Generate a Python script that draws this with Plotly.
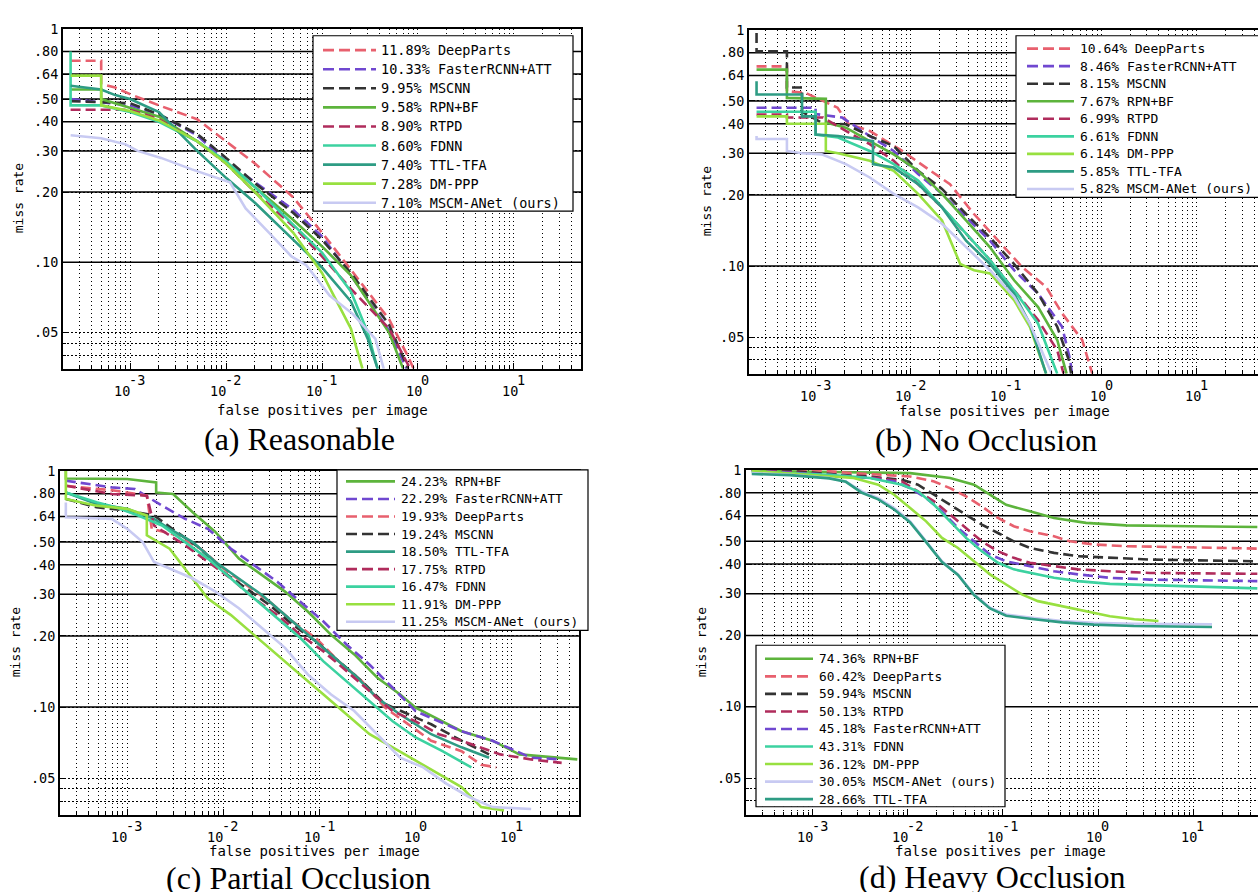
import math
import plotly.graph_objects as go

# ---------------- data ----------------
# (a) Reasonable
A_DEEPPARTS_X = [2.4e-4, 5.0e-4, 5.0e-4, 7e-4, 1e-3, 2e-3, 5e-3, 1e-2, 2e-2, 5e-2, 0.1, 0.2, 0.5, 0.8, 0.9]
A_DEEPPARTS_Y = [0.73, 0.73, 0.58, 0.56, 0.525, 0.47, 0.41, 0.33, 0.265, 0.19, 0.134, 0.093, 0.057, 0.039, 0.035]
A_FASTER_X = [2.4e-4, 1e-3, 2e-3, 5e-3, 1e-2, 2e-2, 5e-2, 0.1, 0.2, 0.5, 0.76]
A_FASTER_Y = [0.50, 0.47, 0.43, 0.35, 0.27, 0.22, 0.168, 0.129, 0.088, 0.051, 0.035]
A_MSCNN_X = [2.4e-4, 1e-3, 2e-3, 5e-3, 1e-2, 2e-2, 5e-2, 0.1, 0.2, 0.5, 0.79]
A_MSCNN_Y = [0.49, 0.48, 0.43, 0.355, 0.28, 0.218, 0.163, 0.125, 0.09, 0.054, 0.035]
A_RPN_X = [2.4e-4, 5e-4, 5e-4, 1e-3, 2e-3, 5e-3, 1e-2, 2e-2, 5e-2, 0.1, 0.2, 0.5, 0.7]
A_RPN_Y = [0.55, 0.55, 0.50, 0.46, 0.42, 0.33, 0.27, 0.21, 0.152, 0.117, 0.088, 0.05, 0.035]
A_RTPD_X = [2.4e-4, 1e-3, 2e-3, 5e-3, 1e-2, 2e-2, 5e-2, 0.1, 0.2, 0.5, 0.83]
A_RTPD_Y = [0.45, 0.45, 0.41, 0.33, 0.265, 0.2, 0.143, 0.106, 0.077, 0.052, 0.035]
A_FDNN_X = [2.4e-4, 2.4e-4, 5e-4, 1e-3, 2e-3, 5e-3, 1e-2, 2e-2, 5e-2, 0.1, 0.2, 0.3, 0.38]
A_FDNN_Y = [0.80, 0.47, 0.47, 0.44, 0.40, 0.33, 0.27, 0.21, 0.145, 0.11, 0.075, 0.05, 0.035]
A_TTL_X = [2.4e-4, 5e-4, 7e-4, 1e-3, 2e-3, 5e-3, 1e-2, 2e-2, 5e-2, 0.1, 0.2, 0.3, 0.38]
A_TTL_Y = [0.57, 0.55, 0.52, 0.50, 0.44, 0.30, 0.23, 0.18, 0.125, 0.095, 0.068, 0.047, 0.035]
A_DMPPP_X = [2.4e-4, 5e-4, 5e-4, 1e-3, 2e-3, 5e-3, 1e-2, 2e-2, 5e-2, 0.1, 0.2, 0.264]
A_DMPPP_Y = [0.63, 0.63, 0.47, 0.445, 0.405, 0.33, 0.265, 0.2, 0.134, 0.09, 0.052, 0.035]
A_MSCM_X = [2.4e-4, 5e-4, 9e-4, 1.2e-3, 2.1e-3, 4.4e-3, 1.1e-2, 1.6e-2, 2.8e-2, 4.8e-2, 6.9e-2, 0.12, 0.21, 0.36, 0.44]
A_MSCM_Y = [0.35, 0.34, 0.32, 0.30, 0.28, 0.25, 0.22, 0.17, 0.134, 0.106, 0.097, 0.072, 0.06, 0.047, 0.035]

# (b) No Occlusion
B_DEEPPARTS_X = [2.4e-4, 5e-4, 5e-4, 7.9e-4, 1.7e-3, 2.2e-3, 3.7e-3, 8.1e-3, 0.0144, 0.0257, 0.0459, 0.082, 0.147, 0.262, 0.386, 0.627, 0.80]
B_DEEPPARTS_Y = [0.70, 0.70, 0.55, 0.54, 0.468, 0.40, 0.373, 0.307, 0.261, 0.222, 0.166, 0.128, 0.099, 0.0816, 0.063, 0.0486, 0.035]
B_FASTER_X = [2.4e-4, 1e-3, 1e-3, 1.9e-3, 3.7e-3, 6.6e-3, 0.0119, 0.0212, 0.0379, 0.0676, 0.121, 0.216, 0.386, 0.469, 0.49]
B_FASTER_Y = [0.468, 0.468, 0.44, 0.425, 0.355, 0.307, 0.245, 0.202, 0.161, 0.128, 0.096, 0.0764, 0.0553, 0.040, 0.035]
B_MSCNN_X = [2.4e-4, 2.4e-4, 5e-4, 5e-4, 7.2e-4, 7.2e-4, 1.16e-3, 2.08e-3, 3.7e-3, 6.6e-3, 0.0119, 0.0212, 0.0379, 0.0676, 0.121, 0.216, 0.343, 0.454, 0.48]
B_MSCNN_Y = [0.97, 0.81, 0.81, 0.57, 0.57, 0.45, 0.404, 0.398, 0.355, 0.322, 0.253, 0.212, 0.166, 0.132, 0.102, 0.0764, 0.0553, 0.040, 0.035]
B_RPN_X = [2.4e-4, 5e-4, 5e-4, 1.28e-3, 1.28e-3, 2.08e-3, 3.7e-3, 6.6e-3, 0.0119, 0.0212, 0.0379, 0.0676, 0.121, 0.216, 0.343, 0.43]
B_RPN_Y = [0.678, 0.678, 0.515, 0.51, 0.405, 0.385, 0.338, 0.297, 0.253, 0.202, 0.156, 0.12, 0.087, 0.067, 0.0486, 0.035]
B_RTPD_X = [2.4e-4, 5e-4, 5e-4, 1.2e-3, 2.08e-3, 3.7e-3, 6.6e-3, 0.0119, 0.0212, 0.0379, 0.0676, 0.121, 0.216, 0.343, 0.40]
B_RTPD_Y = [0.438, 0.438, 0.425, 0.425, 0.373, 0.328, 0.279, 0.222, 0.177, 0.137, 0.106, 0.079, 0.059, 0.044, 0.035]
B_FDNN_X = [2.4e-4, 1e-3, 1e-3, 1.72e-3, 3.7e-3, 6.6e-3, 0.0119, 0.0212, 0.0379, 0.0676, 0.121, 0.216, 0.343]
B_FDNN_Y = [0.45, 0.45, 0.36, 0.35, 0.307, 0.27, 0.23, 0.177, 0.137, 0.106, 0.079, 0.057, 0.035]
B_DMPPP_X = [2.4e-4, 5e-4, 5e-4, 1.28e-3, 1.28e-3, 1.72e-3, 3.7e-3, 6.6e-3, 0.0119, 0.0212, 0.0329, 0.0459, 0.0676, 0.121, 0.177, 0.262]
B_DMPPP_Y = [0.43, 0.43, 0.40, 0.40, 0.307, 0.30, 0.279, 0.253, 0.202, 0.156, 0.102, 0.096, 0.093, 0.0717, 0.0553, 0.035]
B_TTL_X = [2.4e-4, 2.4e-4, 7.2e-4, 7.2e-4, 1e-3, 1e-3, 1.72e-3, 4e-3, 4e-3, 6.6e-3, 0.0119, 0.0212, 0.0379, 0.0676, 0.121, 0.177, 0.262]
B_TTL_Y = [0.606, 0.532, 0.532, 0.43, 0.43, 0.36, 0.355, 0.338, 0.27, 0.261, 0.222, 0.177, 0.128, 0.102, 0.0764, 0.057, 0.035]
B_MSCM_X = [2.4e-4, 2.4e-4, 5e-4, 5e-4, 7.2e-4, 1.16e-3, 2.08e-3, 3.7e-3, 6.6e-3, 0.0119, 0.0212, 0.0379, 0.0676, 0.121, 0.177, 0.30]
B_MSCM_Y = [0.355, 0.345, 0.345, 0.307, 0.30, 0.297, 0.27, 0.237, 0.202, 0.177, 0.151, 0.12, 0.096, 0.074, 0.057, 0.035]

# (c) Partial Occlusion
C_RPN_X = [2.3e-4, 2.3e-4, 1e-3, 2e-3, 2e-3, 3.0e-3, 4.8e-3, 8.3e-3, 0.0145, 0.0252, 0.0438, 0.076, 0.132, 0.23, 0.40, 0.69, 1.0, 3.0, 6.3, 12, 48]
C_RPN_Y = [1.0, 0.928, 0.923, 0.893, 0.81, 0.798, 0.668, 0.55, 0.425, 0.362, 0.308, 0.253, 0.202, 0.167, 0.133, 0.113, 0.0994, 0.079, 0.072, 0.063, 0.060]
C_FASTER_X = [2.3e-4, 6.9e-4, 1.2e-3, 2.3e-3, 4.0e-3, 6.9e-3, 0.012, 0.021, 0.0364, 0.0632, 0.11, 0.191, 0.332, 0.577, 1.0, 3.0, 6.3, 15.9, 33]
C_FASTER_Y = [0.908, 0.851, 0.837, 0.712, 0.626, 0.568, 0.468, 0.398, 0.339, 0.279, 0.23, 0.184, 0.151, 0.1206, 0.096, 0.079, 0.072, 0.061, 0.060]
C_DEEPPARTS_X = [2.3e-4, 7.6e-4, 1.6e-3, 1.8e-3, 3.3e-3, 5.8e-3, 0.01, 0.0174, 0.0303, 0.0526, 0.0914, 0.159, 0.276, 0.48, 0.834, 1.45, 3.0, 4.8, 6.9]
C_DEEPPARTS_Y = [0.865, 0.824, 0.785, 0.568, 0.533, 0.468, 0.386, 0.328, 0.279, 0.23, 0.196, 0.156, 0.1286, 0.0994, 0.0845, 0.072, 0.065, 0.057, 0.0555]
C_MSCNN_X = [2.3e-4, 4.8e-4, 1e-3, 1.9e-3, 3.3e-3, 5.8e-3, 0.01, 0.0174, 0.0303, 0.0526, 0.0914, 0.159, 0.276, 0.48, 0.834, 1.45, 3.0, 5.8]
C_MSCNN_Y = [0.76, 0.701, 0.679, 0.647, 0.55, 0.468, 0.373, 0.318, 0.27, 0.223, 0.19, 0.156, 0.1286, 0.103, 0.093, 0.0845, 0.072, 0.063]
C_TTL_X = [2.3e-4, 4.8e-4, 1e-3, 1.9e-3, 2.76e-3, 4.8e-3, 8.3e-3, 0.0145, 0.0252, 0.0438, 0.076, 0.132, 0.23, 0.40, 0.69, 1.45, 3.0, 5.8]
C_TTL_Y = [0.81, 0.724, 0.69, 0.626, 0.568, 0.499, 0.411, 0.35, 0.298, 0.245, 0.202, 0.167, 0.137, 0.109, 0.093, 0.0767, 0.0675, 0.061]
C_RTPD_X = [2.3e-4, 6.9e-4, 1.6e-3, 1.9e-3, 4.0e-3, 6.9e-3, 0.012, 0.021, 0.0364, 0.0632, 0.11, 0.191, 0.332, 0.577, 1.0, 1.74, 3.0, 7.6, 15.9, 33]
C_RTPD_Y = [0.865, 0.798, 0.785, 0.587, 0.484, 0.411, 0.35, 0.288, 0.245, 0.202, 0.172, 0.142, 0.1168, 0.096, 0.087, 0.0767, 0.072, 0.063, 0.060, 0.058]
C_FDNN_X = [2.3e-4, 4.8e-4, 7.6e-4, 1.3e-3, 2.3e-3, 4e-3, 6.9e-3, 0.012, 0.021, 0.0364, 0.0632, 0.11, 0.191, 0.332, 0.577, 1.0, 1.9, 3.8]
C_FDNN_Y = [0.81, 0.736, 0.701, 0.647, 0.587, 0.499, 0.425, 0.35, 0.288, 0.238, 0.196, 0.156, 0.1286, 0.106, 0.087, 0.0743, 0.065, 0.0555]
C_DMPPP_X = [2.3e-4, 2.3e-4, 4.8e-4, 1e-3, 1.6e-3, 1.6e-3, 2.76e-3, 4e-3, 6.9e-3, 0.012, 0.021, 0.0364, 0.0632, 0.11, 0.191, 0.332, 0.577, 1.0, 1.74, 3.0, 4.8, 8.3]
C_DMPPP_Y = [1.0, 0.76, 0.712, 0.69, 0.647, 0.533, 0.468, 0.386, 0.288, 0.245, 0.202, 0.167, 0.137, 0.113, 0.093, 0.0767, 0.0675, 0.0593, 0.052, 0.0458, 0.0377, 0.0365]
C_MSCM_X = [2.3e-4, 2.3e-4, 6.9e-4, 1e-3, 1.45e-3, 1.9e-3, 2.76e-3, 4.8e-3, 8.3e-3, 0.0145, 0.0252, 0.0438, 0.076, 0.132, 0.23, 0.40, 0.69, 1.2, 2.1, 3.6, 6.3, 15.9]
C_MSCM_Y = [0.735, 0.636, 0.626, 0.568, 0.499, 0.411, 0.386, 0.35, 0.308, 0.262, 0.216, 0.178, 0.137, 0.113, 0.0962, 0.0767, 0.061, 0.0555, 0.0473, 0.0416, 0.0377, 0.037]

# (d) Heavy Occlusion
D_RPN_X = [2.3e-4, 0.0106, 0.0278, 0.0497, 0.073, 0.108, 0.192, 0.344, 0.746, 1.96, 9.2, 47]
D_RPN_Y = [0.99, 0.968, 0.923, 0.865, 0.785, 0.712, 0.668, 0.626, 0.597, 0.583, 0.578, 0.574]
D_DEEPPARTS_X = [2.3e-4, 9.4e-4, 2.7e-3, 0.0106, 0.0189, 0.0278, 0.041, 0.06, 0.0887, 0.13, 0.192, 0.344, 0.506, 0.90, 1.96, 9.2, 47]
D_DEEPPARTS_Y = [1.0, 1.0, 0.968, 0.937, 0.893, 0.837, 0.772, 0.701, 0.626, 0.578, 0.55, 0.524, 0.499, 0.484, 0.476, 0.471, 0.465]
D_MSCNN_X = [2.3e-4, 7e-4, 1.85e-3, 4.0e-3, 8.7e-3, 0.0128, 0.0189, 0.0278, 0.041, 0.06, 0.0887, 0.13, 0.192, 0.344, 0.614, 1.33, 3.5, 15, 47]
D_MSCNN_Y = [1.0, 0.984, 0.953, 0.937, 0.908, 0.865, 0.785, 0.712, 0.647, 0.587, 0.541, 0.499, 0.468, 0.446, 0.432, 0.425, 0.418, 0.414, 0.411]
D_RTPD_X = [2.3e-4, 1.5e-3, 4.9e-3, 8.7e-3, 0.0128, 0.0189, 0.0278, 0.041, 0.06, 0.0887, 0.13, 0.192, 0.344, 0.614, 1.33, 3.5, 47]
D_RTPD_Y = [1.0, 0.953, 0.923, 0.893, 0.811, 0.736, 0.647, 0.568, 0.499, 0.453, 0.425, 0.405, 0.392, 0.38, 0.373, 0.367, 0.364]
D_FASTER_X = [2.3e-4, 1.5e-3, 4.0e-3, 7.2e-3, 0.0106, 0.0156, 0.0229, 0.0337, 0.0497, 0.073, 0.108, 0.192, 0.344, 0.614, 1.33, 3.5, 47]
D_FASTER_Y = [0.99, 0.953, 0.923, 0.893, 0.837, 0.76, 0.668, 0.568, 0.499, 0.439, 0.411, 0.392, 0.373, 0.362, 0.35, 0.344, 0.339]
D_FDNN_X = [2.3e-4, 1.5e-3, 4.0e-3, 8.7e-3, 0.0128, 0.0189, 0.0278, 0.041, 0.06, 0.0887, 0.13, 0.192, 0.344, 0.614, 1.33, 3.5, 47]
D_FDNN_Y = [0.98, 0.953, 0.923, 0.865, 0.811, 0.712, 0.606, 0.516, 0.453, 0.405, 0.38, 0.367, 0.35, 0.339, 0.33, 0.326, 0.316]
D_DMPPP_X = [2.3e-4, 1.5e-3, 2.7e-3, 4.9e-3, 7.2e-3, 0.0106, 0.0156, 0.0229, 0.0337, 0.0497, 0.073, 0.108, 0.158, 0.233, 0.42, 0.746, 1.33, 2.4, 4.3]
D_DMPPP_Y = [0.99, 0.937, 0.923, 0.865, 0.785, 0.69, 0.606, 0.516, 0.468, 0.411, 0.362, 0.328, 0.298, 0.279, 0.266, 0.253, 0.241, 0.234, 0.23]
D_MSCM_X = [2.3e-4, 5.8e-4, 1.5e-3, 2.24e-3, 3.3e-3, 4.9e-3, 7.2e-3, 0.0106, 0.0156, 0.0229, 0.0337, 0.0497, 0.073, 0.108, 0.192, 0.42, 0.90, 2.37, 15.7]
D_MSCM_Y = [0.968, 0.953, 0.923, 0.893, 0.811, 0.76, 0.69, 0.606, 0.499, 0.411, 0.362, 0.298, 0.262, 0.245, 0.238, 0.23, 0.226, 0.224, 0.223]
D_TTL_X = [2.3e-4, 5.8e-4, 1.5e-3, 2.24e-3, 3.3e-3, 4.9e-3, 7.2e-3, 0.0106, 0.0156, 0.0229, 0.0337, 0.0497, 0.073, 0.108, 0.192, 0.42, 0.90, 2.37, 15.7]
D_TTL_Y = [0.96, 0.95, 0.92, 0.89, 0.80, 0.75, 0.68, 0.60, 0.495, 0.408, 0.36, 0.296, 0.26, 0.242, 0.235, 0.227, 0.222, 0.219, 0.217]

# legend order and log-average miss rates
A_METHODS = ["DeepParts", "FasterRCNN+ATT", "MSCNN", "RPN+BF", "RTPD", "FDNN", "TTL-TFA", "DM-PPP", "MSCM-ANet (ours)"]
A_SCORES = [11.89, 10.33, 9.95, 9.58, 8.90, 8.60, 7.40, 7.28, 7.10]
B_METHODS = ["DeepParts", "FasterRCNN+ATT", "MSCNN", "RPN+BF", "RTPD", "FDNN", "DM-PPP", "TTL-TFA", "MSCM-ANet (ours)"]
B_SCORES = [10.64, 8.46, 8.15, 7.67, 6.99, 6.61, 6.14, 5.85, 5.82]
C_METHODS = ["RPN+BF", "FasterRCNN+ATT", "DeepParts", "MSCNN", "TTL-TFA", "RTPD", "FDNN", "DM-PPP", "MSCM-ANet (ours)"]
C_SCORES = [24.23, 22.29, 19.93, 19.24, 18.50, 17.75, 16.47, 11.91, 11.25]
D_METHODS = ["RPN+BF", "DeepParts", "MSCNN", "RTPD", "FasterRCNN+ATT", "FDNN", "DM-PPP", "MSCM-ANet (ours)", "TTL-TFA"]
D_SCORES = [74.36, 60.42, 59.94, 50.13, 45.18, 43.31, 36.12, 30.05, 28.66]

CAPTIONS = ["(a) Reasonable", "(b) No Occlusion", "(c) Partial Occlusion", "(d) Heavy Occlusion"]
X_TICKS = [1e-3, 1e-2, 1e-1, 1, 10]
X_TICK_BASE = "10"
X_TICK_EXP = ["-3", "-2", "-1", "0", "1"]
Y_TICKS = [0.05, 0.1, 0.2, 0.3, 0.4, 0.5, 0.64, 0.8, 1]
Y_TICKTEXT = [".05", ".10", ".20", ".30", ".40", ".50", ".64", ".80", "1"]
Y_SOLID = [0.1, 0.2, 0.3, 0.4, 0.5, 0.64, 0.8]
Y_MINOR_DOTTED = [0.04, 0.045]

# ---------------- styling ----------------
W, H = 1258, 892
MONO = "DejaVu Sans Mono"
SERIF = "Liberation Serif"
STYLE = {
    "DeepParts": ("#E8606E", True),
    "FasterRCNN+ATT": ("#7048D0", True),
    "MSCNN": ("#333333", True),
    "RPN+BF": ("#5DB43C", False),
    "RTPD": ("#B02C5C", True),
    "FDNN": ("#3CD2A0", False),
    "TTL-TFA": ("#2E9C84", False),
    "DM-PPP": ("#98E040", False),
    "MSCM-ANet (ours)": ("#C8CAF2", False),
}
SERIES = {
    "a": {"DeepParts": (A_DEEPPARTS_X, A_DEEPPARTS_Y), "FasterRCNN+ATT": (A_FASTER_X, A_FASTER_Y),
          "MSCNN": (A_MSCNN_X, A_MSCNN_Y), "RPN+BF": (A_RPN_X, A_RPN_Y), "RTPD": (A_RTPD_X, A_RTPD_Y),
          "FDNN": (A_FDNN_X, A_FDNN_Y), "TTL-TFA": (A_TTL_X, A_TTL_Y), "DM-PPP": (A_DMPPP_X, A_DMPPP_Y),
          "MSCM-ANet (ours)": (A_MSCM_X, A_MSCM_Y)},
    "b": {"DeepParts": (B_DEEPPARTS_X, B_DEEPPARTS_Y), "FasterRCNN+ATT": (B_FASTER_X, B_FASTER_Y),
          "MSCNN": (B_MSCNN_X, B_MSCNN_Y), "RPN+BF": (B_RPN_X, B_RPN_Y), "RTPD": (B_RTPD_X, B_RTPD_Y),
          "FDNN": (B_FDNN_X, B_FDNN_Y), "TTL-TFA": (B_TTL_X, B_TTL_Y), "DM-PPP": (B_DMPPP_X, B_DMPPP_Y),
          "MSCM-ANet (ours)": (B_MSCM_X, B_MSCM_Y)},
    "c": {"DeepParts": (C_DEEPPARTS_X, C_DEEPPARTS_Y), "FasterRCNN+ATT": (C_FASTER_X, C_FASTER_Y),
          "MSCNN": (C_MSCNN_X, C_MSCNN_Y), "RPN+BF": (C_RPN_X, C_RPN_Y), "RTPD": (C_RTPD_X, C_RTPD_Y),
          "FDNN": (C_FDNN_X, C_FDNN_Y), "TTL-TFA": (C_TTL_X, C_TTL_Y), "DM-PPP": (C_DMPPP_X, C_DMPPP_Y),
          "MSCM-ANet (ours)": (C_MSCM_X, C_MSCM_Y)},
    "d": {"DeepParts": (D_DEEPPARTS_X, D_DEEPPARTS_Y), "FasterRCNN+ATT": (D_FASTER_X, D_FASTER_Y),
          "MSCNN": (D_MSCNN_X, D_MSCNN_Y), "RPN+BF": (D_RPN_X, D_RPN_Y), "RTPD": (D_RTPD_X, D_RTPD_Y),
          "FDNN": (D_FDNN_X, D_FDNN_Y), "TTL-TFA": (D_TTL_X, D_TTL_Y), "DM-PPP": (D_DMPPP_X, D_DMPPP_Y),
          "MSCM-ANet (ours)": (D_MSCM_X, D_MSCM_Y)},
}
ORDER = {"a": (A_METHODS, A_SCORES), "b": (B_METHODS, B_SCORES),
         "c": (C_METHODS, C_SCORES), "d": (D_METHODS, D_SCORES)}

# pixel layout of each panel
PANELS = {
    "a": dict(sfx="", px=(63, 581), py=(21, 364), xmax=math.log10(50), mirror=True,
              box=(313, 28, 573, 205), row0=42.5, step=19.25, sample=(323, 376), textx=379, font=13.5,
              ylab=(18, 192), xlab=(322, 406), cap=(299, 416)),
    "b": dict(sfx="2", px=(749, 1258), py=(22, 369), xmax=1.642, mirror=False,
              box=(1016, 28, 1275, 191), row0=41, step=17.7, sample=(1027, 1074), textx=1078, font=13,
              ylab=(706, 195), xlab=(1004, 407), cap=(986, 417)),
    "c": dict(sfx="3", px=(60, 579), py=(467, 814), xmax=math.log10(50), mirror=True,
              box=(337, 466, 588, 628), row0=477.7, step=17.7, sample=(346, 395), textx=399, font=12.8,
              ylab=(15, 640), xlab=(315, 851), cap=(298, 859)),
    "d": dict(sfx="4", px=(746, 1258), py=(466, 814), xmax=1.679, mirror=False,
              box=(756, 643, 1005, 806), row0=656.7, step=17.7, sample=(765, 813), textx=817, font=12.8,
              ylab=(701, 640), xlab=(1000, 851), cap=(992, 858)),
}

XMINOR = [m * 10.0 ** e for e in range(-4, 2) for m in range(2, 10) if 2e-4 <= m * 10.0 ** e <= 50]
DASH_PLOT = "10px,5px"
DASH_LEG = "11px,5px"


def px_x(v):
    return v / W


def px_y(v):
    return 1 - v / H


fig = go.Figure()
layout = dict(width=W, height=H, margin=dict(l=0, r=0, t=0, b=0), autosize=False,
              paper_bgcolor="white", plot_bgcolor="white", showlegend=False)
shapes = []
annotations = []

for key, cap in zip(["a", "b", "c", "d"], CAPTIONS):
    p = PANELS[key]
    sfx = p["sfx"]
    xname, yname = "x" + sfx, "y" + sfx
    methods, scores = ORDER[key]
    for m, s in zip(methods, scores):
        xs, ys = SERIES[key][m]
        color, dashed = STYLE[m]
        fig.add_trace(go.Scatter(
            x=xs, y=ys, mode="lines", name=f"{s:.2f}% {m}",
            line=dict(color=color, width=2.6, dash=DASH_PLOT if dashed else "solid"),
            xaxis=xname, yaxis=yname, hoverinfo="skip", showlegend=False))

    x0, x1 = p["px"]
    t, b = p["py"]
    layout["xaxis" + sfx] = dict(
        type="log", domain=[px_x(x0), px_x(x1)], range=[math.log10(2e-4), p["xmax"]], anchor=yname,
        showline=True, linecolor="black", linewidth=2, mirror=True,
        ticks="inside", ticklen=6, tickwidth=1, tickcolor="black",
        tickmode="array", tickvals=X_TICKS, showticklabels=False,
        showgrid=True, gridcolor="black", gridwidth=1, griddash="1px,3px",
        minor=dict(tickmode="array", tickvals=XMINOR, ticks="inside", ticklen=3, tickcolor="black",
                   showgrid=True, gridcolor="black", gridwidth=1, griddash="1px,3px"),
        zeroline=False, fixedrange=True)
    layout["yaxis" + sfx] = dict(
        type="log", domain=[px_y(b), px_y(t)], range=[math.log10(0.035), 0], anchor=xname,
        showline=True, linecolor="black", linewidth=2, mirror=p["mirror"],
        ticks="inside", ticklen=5, tickwidth=1, tickcolor="black",
        tickmode="array", tickvals=Y_TICKS, ticktext=Y_TICKTEXT,
        tickfont=dict(family=MONO, size=13.5, color="black"),
        showgrid=True, gridcolor="black", gridwidth=1, griddash="2px,2px",
        minor=dict(tickmode="array", tickvals=Y_MINOR_DOTTED, ticks="inside", ticklen=3, tickcolor="black",
                   showgrid=True, gridcolor="black", gridwidth=1, griddash="2px,2px"),
        zeroline=False, fixedrange=True)
    for v in Y_SOLID:
        shapes.append(dict(type="line", xref=xname + " domain", x0=0, x1=1, yref=yname, y0=v, y1=v,
                           line=dict(color="black", width=1.5), layer="below"))

    # x tick labels: "10" with a raised exponent of the same size
    for tv, ex in zip(X_TICKS, X_TICK_EXP):
        split = 8.2 * (1 - len(ex) / 2.0)
        annotations.append(dict(text=X_TICK_BASE, x=math.log10(tv), xref=xname, y=0, yref=yname + " domain",
                                xanchor="right", yanchor="middle", xshift=split + 2, yshift=-22,
                                showarrow=False, font=dict(family=MONO, size=13.5, color="black")))
        annotations.append(dict(text=ex, x=math.log10(tv), xref=xname, y=0, yref=yname + " domain",
                                xanchor="left", yanchor="middle", xshift=split - 3, yshift=-11,
                                showarrow=False, font=dict(family=MONO, size=13.5, color="black")))

    # legend box drawn as in the reference
    bx0, by0, bx1, by1 = p["box"]
    shapes.append(dict(type="rect", xref="paper", yref="paper", x0=px_x(bx0), x1=px_x(bx1),
                       y0=px_y(by1), y1=px_y(by0), fillcolor="white",
                       line=dict(color="black", width=1.2), layer="above"))
    for i, (m, s) in enumerate(zip(methods, scores)):
        color, dashed = STYLE[m]
        yy = p["row0"] + i * p["step"]
        sx0, sx1 = p["sample"]
        shapes.append(dict(type="line", xref="paper", yref="paper", x0=px_x(sx0), x1=px_x(sx1),
                           y0=px_y(yy), y1=px_y(yy), layer="above",
                           line=dict(color=color, width=2.6, dash=DASH_LEG if dashed else "solid")))
        annotations.append(dict(text=f"{s:.2f}% {m}", x=px_x(p["textx"]), y=px_y(yy), xref="paper", yref="paper",
                                xanchor="left", yanchor="middle", showarrow=False,
                                font=dict(family=MONO, size=p["font"], color="black")))

    annotations.append(dict(text="miss rate", x=px_x(p["ylab"][0]), y=px_y(p["ylab"][1]),
                            xref="paper", yref="paper", showarrow=False, textangle=-90,
                            xanchor="center", yanchor="middle", font=dict(family=MONO, size=13, color="black")))
    annotations.append(dict(text="false positives per image", x=px_x(p["xlab"][0]), y=px_y(p["xlab"][1]),
                            xref="paper", yref="paper", showarrow=False,
                            xanchor="center", yanchor="middle", font=dict(family=MONO, size=14, color="black")))
    annotations.append(dict(text=cap, x=px_x(p["cap"][0]), y=px_y(p["cap"][1]),
                            xref="paper", yref="paper", showarrow=False, borderpad=0,
                            xanchor="center", yanchor="top", font=dict(family=SERIF, size=32, color="black")))

layout["shapes"] = shapes
layout["annotations"] = annotations
fig.update_layout(**layout)
fig.write_html("out.html", config={"displayModeBar": False},
               post_script="document.body.style.margin='0px';document.body.style.overflow='hidden';")
